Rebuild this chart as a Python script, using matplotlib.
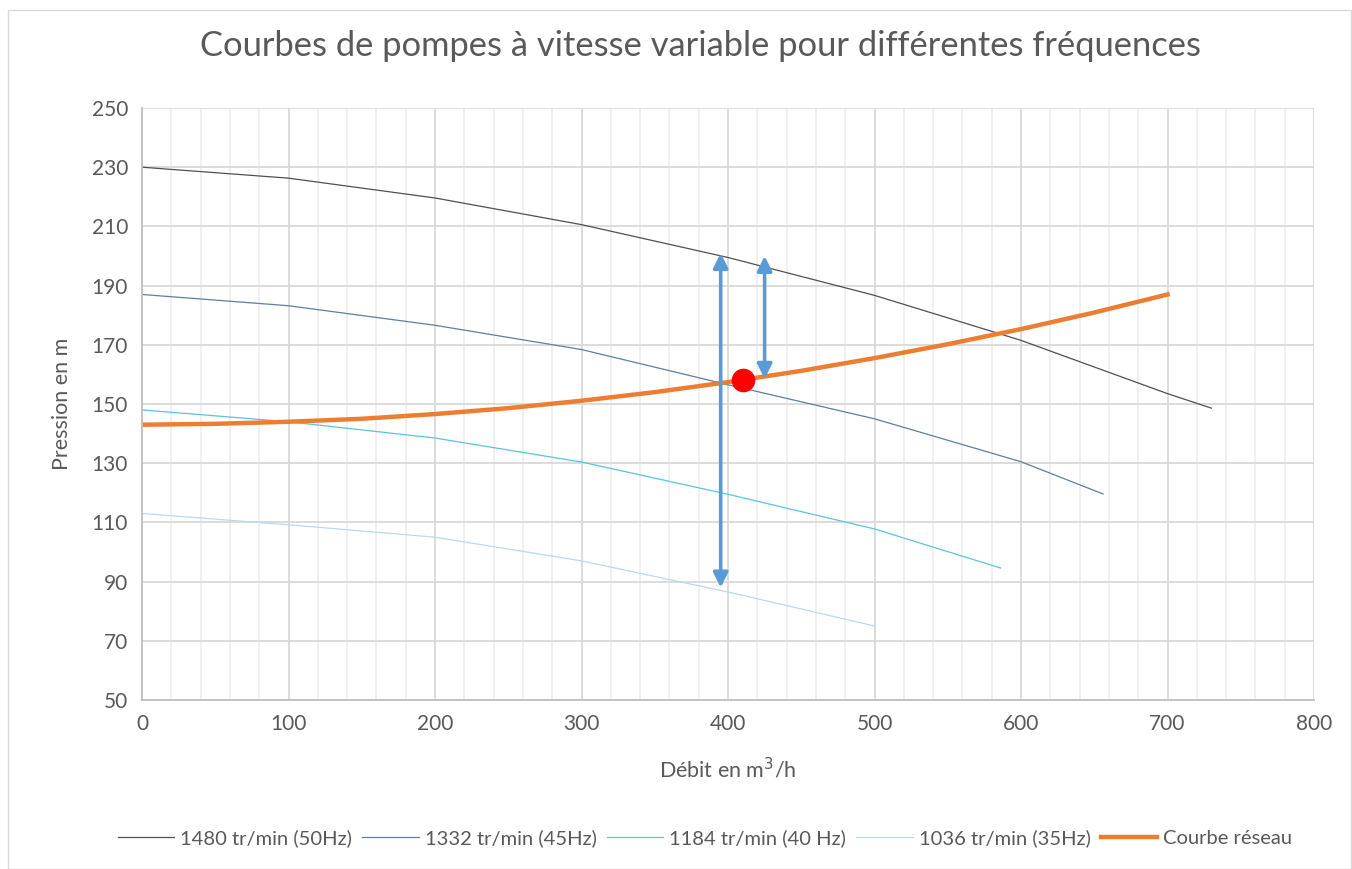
import matplotlib
matplotlib.use("Agg")
import matplotlib.pyplot as plt
from matplotlib.patches import Rectangle
from matplotlib.ticker import MultipleLocator, FixedLocator

plt.rcParams['font.family'] = ['Lato', 'DejaVu Sans']

# Data
q_50 = [0, 100, 200, 300, 400, 500, 600, 700, 730]
h_50 = [230, 226.3, 219.6, 210.6, 199.5, 186.7, 171.5, 153.5, 148.6]
q_45 = [0, 100, 200, 300, 400, 500, 600, 656]
h_45 = [187, 183.2, 176.6, 168.4, 156.5, 145.0, 130.5, 119.6]
q_40 = [0, 100, 200, 300, 400, 500, 586]
h_40 = [148, 144.0, 138.5, 130.4, 119.5, 107.8, 94.6]
q_35 = [0, 100, 200, 300, 400, 500]
h_35 = [113, 109.2, 105.0, 97.0, 86.5, 75.0]
q_res = [0, 50, 100, 150, 200, 250, 300, 350, 400, 450, 500, 550, 600, 650, 700]
h_res = [143, 143.3, 144, 145, 146.6, 148.6, 151.1, 154.0, 157.4, 161.2, 165.5, 170.2, 175.3, 180.9, 187]
y_ticks = [50, 70, 90, 110, 130, 150, 170, 190, 210, 230, 250]
labels = ["1480 tr/min (50Hz)", "1332 tr/min (45Hz)", "1184 tr/min (40 Hz)",
          "1036 tr/min (35Hz)", "Courbe réseau"]
point_q, point_h = 410, 158
arrow1_q, arrow1_h = 395, (88, 201)
arrow2_q, arrow2_h = 425, (158.5, 200)

W, H = 1352, 869
fig = plt.figure(figsize=(W / 100, H / 100), dpi=100)
fig.patch.set_facecolor('white')
fig.patches.append(Rectangle((8 / W, 0), (W - 8) / W - 1 / W, 1 - 10 / H,
                             transform=fig.transFigure, fill=False,
                             edgecolor='#d9d9d9', lw=1))

ax = fig.add_axes([142 / W, 1 - 700 / H, (1314 - 142) / W, (700 - 108) / H])
ax.set_xlim(0, 800)
ax.set_ylim(50, 250)
ax.xaxis.set_major_locator(MultipleLocator(100))
ax.xaxis.set_minor_locator(MultipleLocator(20))
ax.yaxis.set_major_locator(FixedLocator(y_ticks))
ax.grid(which='major', axis='both', color='#d9d9d9', lw=1.3)
ax.grid(which='minor', axis='x', color='#efefef', lw=1.3)
ax.set_axisbelow(True)
for s in ['top', 'right']:
    ax.spines[s].set_visible(False)
for s in ['left', 'bottom']:
    ax.spines[s].set_color('#bfbfbf')
    ax.spines[s].set_linewidth(1.3)
ax.tick_params(which='both', length=0, labelsize=15, colors='#595959', pad=10)

ax.plot(q_50, h_50, color='#505050', lw=0.9, label=labels[0])
ax.plot(q_45, h_45, color='#5f7f9f', lw=0.9, label=labels[1])
ax.plot(q_40, h_40, color='#5bc3e0', lw=0.9, label=labels[2])
ax.plot(q_35, h_35, color='#bcd8ec', lw=0.9, label=labels[3])
ax.plot(q_res, h_res, color='#ED7D31', lw=3.2, label=labels[4])

ax.plot([point_q], [point_h], 'o', color='#ff0000', ms=16, zorder=5)

for q, (h0, h1) in [(arrow1_q, arrow1_h), (arrow2_q, arrow2_h)]:
    ax.annotate('', xy=(q, h1), xytext=(q, h0),
                arrowprops=dict(arrowstyle='<|-|>', color='#5B9BD5', lw=2.6,
                                mutation_scale=22, shrinkA=0, shrinkB=0), zorder=4)

ax.set_xlabel('Débit en m$^3$/h', fontsize=15.5, color='#595959', labelpad=16)
ax.set_ylabel('Pression en m', fontsize=15.5, color='#595959', labelpad=14)
fig.text(701 / W, 1 - 46 / H, 'Courbes de pompes à vitesse variable pour différentes fréquences',
         ha='center', va='center', fontsize=24.8, color='#595959')

fig.legend(loc='center', bbox_to_anchor=(705 / W, 1 - 838 / H), ncol=5, frameon=False,
           fontsize=14.5, handlelength=2.8, columnspacing=0.5, handletextpad=0.3,
           labelcolor='#595959')

fig.savefig('out.png', dpi=100)
